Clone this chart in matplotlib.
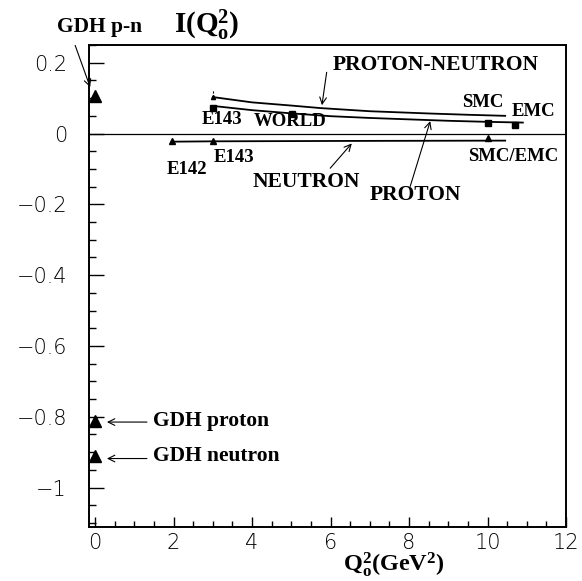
import matplotlib
matplotlib.use("Agg")
import matplotlib.pyplot as plt
from matplotlib.ticker import MultipleLocator

plt.rcParams['mathtext.fontset'] = 'custom'
plt.rcParams['mathtext.rm'] = 'Liberation Serif:bold'
plt.rcParams['mathtext.it'] = 'Liberation Serif:bold'
plt.rcParams['mathtext.bf'] = 'Liberation Serif:bold'

# GDH sum rule values at Q2 = 0 (p-n, proton, neutron)
gdh_q2 = [0, 0, 0]
gdh_val = [0.107, -0.812, -0.910]

# evolved integrals
pn_q2 = [3, 4, 5, 5.73, 7, 8.54, 9.5, 10.45]
pn_val = [0.103, 0.088, 0.079, 0.072, 0.063, 0.0565, 0.053, 0.050]

p_q2 = [3, 4, 5, 6, 7, 8, 9, 10, 10.9]
p_val = [0.078, 0.066, 0.057, 0.049, 0.044, 0.040, 0.036, 0.033, 0.031]

n_q2 = [1.95, 3, 6, 10.45]
n_val = [-0.023, -0.022, -0.021, -0.020]

# experiment points
pn_exp_q2 = [3.0]
pn_exp_val = [0.103]
pn_exp_top = [0.122]
p_exp_q2 = [3.0, 5.01, 10.02, 10.7]
p_exp_val = [0.072, 0.056, 0.030, 0.023]
n_exp_q2 = [1.95, 3.0, 10.02]
n_exp_val = [-0.021, -0.020, -0.012]

xtick_vals = [0, 2, 4, 6, 8, 10, 12]
ytick_vals = [-1, -0.8, -0.6, -0.4, -0.2, 0, 0.2]
ytick_labels = ['\u22121', '\u22120.8', '\u22120.6', '\u22120.4', '\u22120.2', '0', '0.2']

fig = plt.figure(figsize=(5.82, 5.81), dpi=100)
ax = fig.add_axes([0.1534, 0.0938, 0.8191, 0.8287])

ax.plot(pn_q2, pn_val, color='black', lw=1.3)
ax.plot(p_q2, p_val, color='black', lw=1.3)
ax.plot(n_q2, n_val, color='black', lw=1.3)
ax.axhline(0, color='black', lw=0.9)

ax.plot(gdh_q2, gdh_val, '^', color='black', ms=8, clip_on=False)
ax.plot(pn_exp_q2, pn_exp_val, '^', color='black', ms=3)
ax.vlines(pn_exp_q2, pn_exp_val, pn_exp_top, color='black', lw=0.8, linestyles=(0, (2, 1.5)))
ax.plot(p_exp_q2, p_exp_val, 's', color='black', ms=4)
ax.plot(n_exp_q2, n_exp_val, '^', color='black', ms=4)

ax.set_xlim(-0.15, 12)
ax.set_ylim(-1.11, 0.25)

ax.set_xticks(xtick_vals)
ax.set_xticklabels([str(v) for v in xtick_vals])
ax.set_yticks(ytick_vals)
ax.set_yticklabels(ytick_labels)
ax.xaxis.set_minor_locator(MultipleLocator(0.5))
ax.yaxis.set_minor_locator(MultipleLocator(0.05))
ax.tick_params(axis='both', which='both', direction='in', width=1.0,
               top=False, right=False)
ax.tick_params(axis='y', which='major', length=11, pad=16)
ax.tick_params(axis='y', which='minor', length=5)
ax.tick_params(axis='x', which='major', length=7, pad=5)
ax.tick_params(axis='x', which='minor', length=4)
for lab in ax.get_xticklabels() + ax.get_yticklabels():
    lab.set_fontfamily('DejaVu Sans')
    lab.set_fontweight('light')
    lab.set_fontsize(15)
for sp in ax.spines.values():
    sp.set_linewidth(1.4)

big = dict(fontfamily='Liberation Serif', fontweight='bold', fontsize=15.5,
           ha='center', va='center')
small = dict(fontfamily='Liberation Serif', fontweight='bold', fontsize=13.5,
             ha='center', va='center')
arr = dict(arrowstyle='->', color='black', lw=0.8, shrinkA=0, shrinkB=0,
           mutation_scale=12)

ax.text(8.69, 0.193, 'PROTON-NEUTRON', **big)
ax.annotate('', xy=(5.78, 0.080), xytext=(5.9, 0.173), arrowprops=arr)
ax.text(3.23, 0.040, 'E143', **small)
ax.text(4.97, 0.033, 'WORLD', **small)
ax.text(2.33, -0.102, 'E142', **small)
ax.text(3.53, -0.068, 'E143', **small)
ax.text(5.39, -0.138, 'NEUTRON', **big)
ax.annotate('', xy=(6.54, -0.028), xytext=(5.99, -0.098), arrowprops=arr)
ax.text(8.17, -0.174, 'PROTON', **big)
ax.annotate('', xy=(8.54, 0.035), xytext=(8.03, -0.149), arrowprops=arr)
ax.text(9.89, 0.089, 'SMC', **small)
ax.text(11.17, 0.061, 'EMC', **small)
ax.text(10.66, -0.066, 'SMC/EMC', **small)

ax.text(1.486, -0.813, 'GDH proton', fontfamily='Liberation Serif',
        fontweight='bold', fontsize=15.5, ha='left', va='center')
ax.annotate('', xy=(0.30, -0.815), xytext=(1.32, -0.815), arrowprops=arr)
ax.text(1.486, -0.911, 'GDH neutron', fontfamily='Liberation Serif',
        fontweight='bold', fontsize=15.5, ha='left', va='center')
ax.annotate('', xy=(0.30, -0.918), xytext=(1.32, -0.918), arrowprops=arr)

ax.text(0.107, 0.301, 'GDH p-n', clip_on=False, **big)
ax.annotate('', xy=(-0.127, 0.131), xytext=(-0.51, 0.249), arrowprops=arr,
            annotation_clip=False)
ax.text(2.83, 0.306, r'$\mathrm{I(Q_o^2)}$', fontsize=21, ha='center',
        va='center', clip_on=False)

fig.text(394 / 582, 2 / 581, r'$\mathrm{Q_o^2(GeV^2)}$', fontsize=17.5,
         ha='center', va='bottom')

fig.savefig('out.png', dpi=100)
